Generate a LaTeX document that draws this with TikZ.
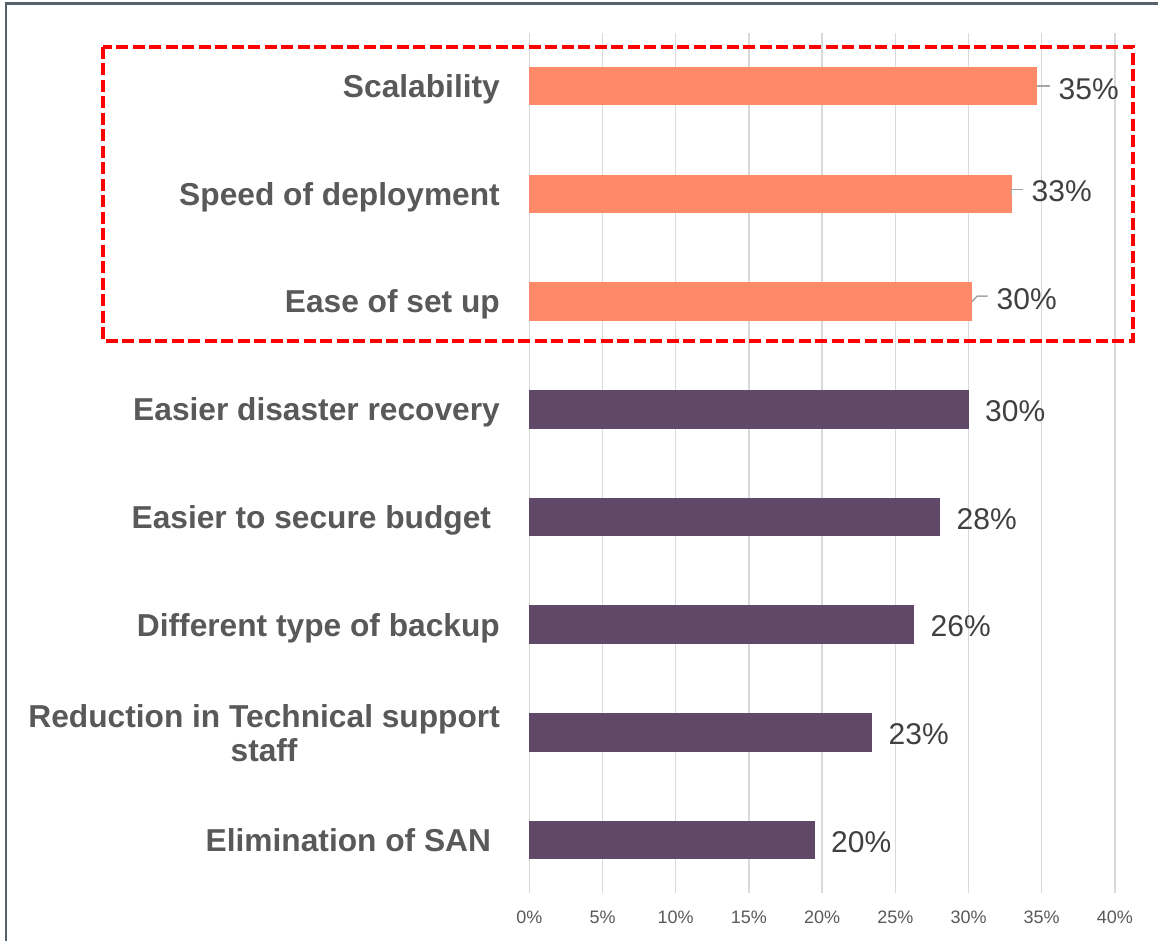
\documentclass[tikz,border=0pt]{standalone}
\usepackage{fontspec}
\setmainfont{Liberation Sans}
\definecolor{barorange}{HTML}{FF8A6A}
\definecolor{barpurple}{HTML}{604868}
\definecolor{gridgray}{HTML}{D9D9D9}
\definecolor{labelgray}{HTML}{595959}
\definecolor{valgray}{HTML}{404040}
\definecolor{leadergray}{HTML}{A6A6A6}
\definecolor{framegray}{HTML}{56626E}
\definecolor{boxred}{HTML}{FF0000}
\begin{document}
\begin{tikzpicture}[x=1pt,y=-1pt,
  declare function={gx(\v)=529.3+14.64*\v;},
  bar/.style={anchor=west,inner sep=0pt,outer sep=0pt,minimum height=38.5pt},
  catlabel/.style={anchor=east,inner sep=0pt,text=labelgray,align=center,
    font=\fontsize{31.7}{34}\selectfont\bfseries,text height=22.7pt,text depth=0pt},
  vallabel/.style={anchor=west,inner sep=0pt,text=valgray,
    font=\fontsize{30}{32}\selectfont,text height=21.5pt,text depth=0pt},
  axislabel/.style={inner sep=0pt,text=labelgray,font=\fontsize{18}{20}\selectfont,
    text height=12.9pt,text depth=0pt},
  gridline/.style={draw=gridgray,line width=1.5pt},
  leader/.style={draw=leadergray,line width=1.5pt},
  highlight/.style={draw=boxred,line width=3.8pt,dash pattern=on 12pt off 4.5pt}]

\useasboundingbox (0,0) rectangle (1158,941);

% outer frame (left and top edges)
\draw[framegray,line width=2.2pt] (6,941) -- (6,3.5) -- (1158,3.5);

% vertical gridlines and axis tick labels
\foreach \p in {0,5,...,40}{
  \draw[gridline] ({gx(\p)},33) -- ({gx(\p)},893);
  \node[axislabel] (ax\p) at ({gx(\p)},916.7) {\p\%};
}

% bars
\node[bar,fill=barorange,minimum width=507.7pt] (b1) at (529.3,86.2) {};
\node[bar,fill=barorange,minimum width=482.4pt] (b2) at (529.3,193.9) {};
\node[bar,fill=barorange,minimum width=442.7pt] (b3) at (529.3,301.6) {};
\node[bar,fill=barpurple,minimum width=439.2pt] (b4) at (529.3,409.3) {};
\node[bar,fill=barpurple,minimum width=410.7pt] (b5) at (529.3,517.0) {};
\node[bar,fill=barpurple,minimum width=384.7pt] (b6) at (529.3,624.7) {};
\node[bar,fill=barpurple,minimum width=342.7pt] (b7) at (529.3,732.4) {};
\node[bar,fill=barpurple,minimum width=285.7pt] (b8) at (529.3,840.0) {};

% category labels
\node[catlabel] (c1) at (500,86.2) {Scalability};
\node[catlabel] (c2) at (500,193.9) {Speed of deployment};
\node[catlabel] (c3) at (500,301.6) {Ease of set up};
\node[catlabel] (c4) at (500,409.3) {Easier disaster recovery};
\node[catlabel] (c5) at (500,517.0) {Easier to secure budget\ };
\node[catlabel] (c6) at (500,624.7) {Different type of backup};
\node[anchor=east,inner sep=0pt,text=labelgray,align=center,
  font=\fontsize{31.7}{34}\selectfont\bfseries] (c7) at (500,732.8)
  {Reduction in Technical support\\staff};
\node[catlabel] (c8) at (500,840.0) {Elimination of SAN\ };

% value labels
\node[vallabel] (v1) at (1058.5,88.5) {35\%};
\node[vallabel] (v2) at (1031.5,190.5) {33\%};
\node[vallabel] (v3) at (996.5,298.8) {30\%};
\node[vallabel] (v4) at (985.0,410.3) {30\%};
\node[vallabel] (v5) at (956.5,518.5) {28\%};
\node[vallabel] (v6) at (930.5,626.0) {26\%};
\node[vallabel] (v7) at (888.5,734.0) {23\%};
\node[vallabel] (v8) at (831.0,841.5) {20\%};

% leader lines from bar ends to their labels
\draw[leader] (b1.east) -- ([xshift=-8.5pt]b1.east -| v1.west);
\draw[leader] ([yshift=-1pt]b2.east) -- ++(0,-5.6) coordinate (k2)
  -- ([xshift=-8.5pt]k2 -| v2.west);
\draw[leader] (b3.east) -- ++(5.3,-5.6) coordinate (k3)
  -- ([xshift=-9pt]k3 -| v3.west);

% highlight frame round the top three items
\draw[highlight] (102.7,46.7) rectangle (1133.3,340.7);
\end{tikzpicture}
\end{document}
